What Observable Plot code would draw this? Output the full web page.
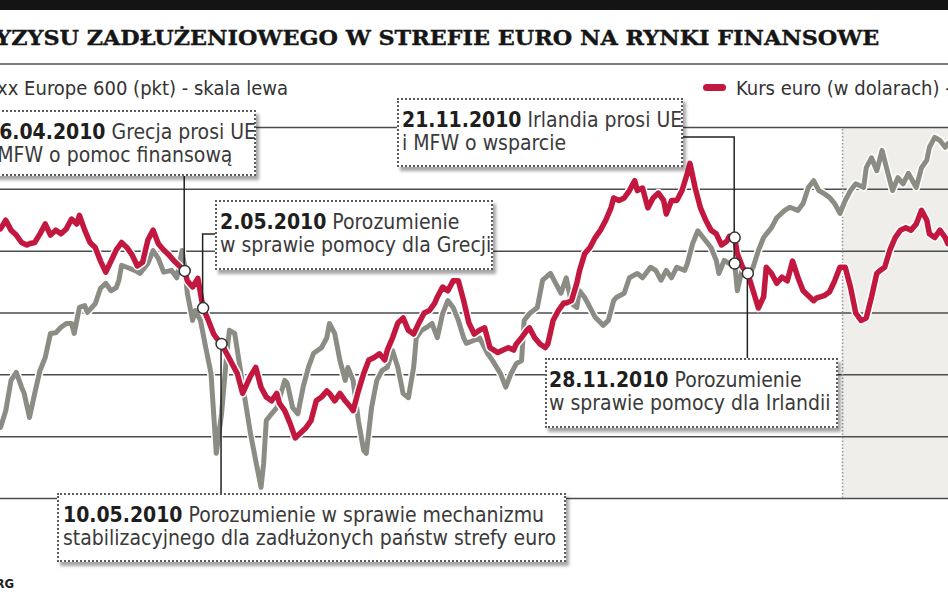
<!DOCTYPE html>
<html><head><meta charset="utf-8">
<script src="https://cdn.jsdelivr.net/npm/d3@7"></script>
<script src="https://cdn.jsdelivr.net/npm/@observablehq/plot@0.6"></script>
<style>
html,body{margin:0;padding:0;background:#fff;}
body{width:948px;height:593px;overflow:hidden;position:relative;font-family:"Liberation Sans Narrow","DejaVu Sans Condensed",sans-serif;}
.abs{position:absolute;white-space:nowrap;}
#topbar{left:0;top:0;width:948px;height:10px;background:#141414;}
#title{top:28px;left:0;font-family:"DejaVu Serif",serif;font-weight:bold;font-size:20.5px;color:#161616;line-height:1;-webkit-text-stroke:0.35px #161616;}
#rule{left:0;top:63px;width:948px;height:2px;background:#7d7d7d;}
.leg{font-size:20px;color:#333;line-height:1;top:78px;}
.pill{display:inline-block;width:23px;height:7px;border-radius:4px;vertical-align:middle;margin-right:10px;position:relative;top:-2px;}
#chart{position:absolute;left:0;top:96px;}
.box{position:absolute;background:#fff;border:2px dotted #5a5a5a;box-shadow:3px 4px 3px rgba(0,0,0,0.35);font-size:21px;line-height:23px;color:#3a3a3a;padding-top:9px;box-sizing:border-box;white-space:nowrap;z-index:2;}
.box b{color:#1e1e1e;}
#source{font-size:13px;font-weight:bold;color:#222;top:577px;right:934px;line-height:1;}
</style></head>
<body>
<div id="topbar" class="abs"></div>
<div id="title" class="abs"><span id="t0">WPŁYW KR</span><span id="t1">YZYSU ZADŁUŻENIOWEGO W STREFIE EURO NA RYNKI FINANSOWE</span></div>
<div id="rule" class="abs"></div>
<div id="legL" class="abs leg" style="right:660px"><span class="pill" style="background:#8b8c84"></span>Stoxx Europe 600 (pkt) - skala lewa</div>
<div id="legR" class="abs leg" style="left:703px"><span class="pill" style="background:#c2183f"></span>Kurs euro (w dolarach) - skala prawa</div>
<div id="chart"></div>
<div id="source" class="abs">Źródło: BLOOMBERG</div>
<script>
// ---------- DATA ----------
const startDate = "2010-02-15";           // day 0 of the series below
const leftTicks  = [230, 240, 250, 260, 270, 280, 290];        // Stoxx Europe 600 (left scale)
const rightTicks = [1.15, 1.20, 1.25, 1.30, 1.35, 1.40, 1.45]; // EUR/USD (right scale)
const shadeFrom = "2011-01-01";

// Stoxx Europe 600: [day since startDate, points]
const stoxxData = [[0,241.5],[2,244.2],[4,249.1],[6,250.4],[8,248.0],[9,247.0],[11,243.1],[13,247.0],[15,250.7],[17,252.8],[19,256.7],[21,256.8],[23,257.7],[25,258.3],[27,258.3],[28,256.7],[30,260.9],[32,261.2],[33,260.1],[36,261.5],[38,264.0],[40,264.8],[42,263.6],[44,264.1],[45,265.3],[46,267.7],[48,267.4],[51,266.9],[53,266.4],[56,268.0],[58,270.1],[60,268.8],[62,266.6],[65,266.9],[67,265.7],[69,270.1],[70,267.4],[71,263.2],[73,258.8],[74,260.4],[76,258.8],[78,254.4],[80,250.2],[82,237.3],[84,243.7],[86,253.5],[87,257.2],[89,256.7],[91,251.2],[93,245.8],[95,240.5],[97,236.1],[99,231.8],[100,235.7],[101,242.6],[103,243.7],[105,244.7],[108,249.1],[109,248.6],[111,244.7],[113,243.7],[115,248.0],[117,251.2],[119,253.5],[122,254.4],[124,256.0],[125,258.3],[127,256.7],[129,252.3],[131,249.1],[132,251.2],[134,249.1],[136,242.6],[138,237.8],[139,237.3],[141,244.7],[143,249.1],[145,250.7],[147,251.2],[149,253.9],[151,251.2],[153,247.0],[155,246.3],[157,251.2],[158,256.0],[160,257.2],[162,257.7],[164,258.3],[166,256.0],[168,259.9],[170,262.0],[172,260.9],[174,258.8],[176,256.0],[177,255.1],[180,255.6],[182,256.0],[185,253.5],[187,252.3],[190,250.2],[192,248.0],[194,250.2],[196,251.8],[198,252.3],[199,258.8],[201,259.9],[204,260.9],[206,265.3],[209,266.4],[211,264.8],[213,263.2],[215,265.7],[217,261.5],[219,260.9],[220,263.6],[222,262.5],[224,260.9],[226,259.3],[229,258.0],[231,258.8],[233,262.0],[234,262.5],[237,263.2],[239,265.7],[242,266.4],[244,265.7],[247,267.4],[249,266.9],[251,265.3],[253,266.9],[255,265.7],[257,267.4],[260,266.9],[261,268.0],[263,271.2],[265,273.3],[267,272.2],[270,270.6],[272,268.5],[273,266.4],[275,268.5],[277,268.0],[279,268.0],[280,263.6],[282,267.4],[284,265.7],[286,267.4],[288,270.1],[290,272.2],[293,273.8],[295,275.4],[298,276.6],[300,277.1],[303,276.6],[305,277.7],[307,280.3],[309,281.4],[311,279.8],[313,279.3],[315,278.7],[317,277.7],[319,276.1],[321,278.2],[323,279.8],[325,280.9],[328,280.3],[329,283.5],[331,285.1],[333,283.0],[335,286.3],[337,283.0],[339,279.8],[341,281.9],[343,280.9],[345,282.6],[348,280.3],[350,283.5],[352,284.7],[353,286.8],[355,288.4],[357,287.9],[359,286.8],[360,287.4]];

// EUR/USD: [day since startDate, dollars per euro]
const euroData = [[0,1.368],[2,1.375],[4,1.367],[6,1.363],[8,1.357],[10,1.355],[11,1.356],[13,1.357],[15,1.364],[17,1.372],[19,1.363],[21,1.367],[23,1.364],[25,1.368],[27,1.376],[29,1.372],[30,1.379],[32,1.367],[34,1.357],[36,1.353],[38,1.342],[40,1.333],[42,1.342],[44,1.351],[46,1.357],[48,1.353],[50,1.347],[52,1.338],[54,1.341],[56,1.359],[58,1.367],[60,1.356],[62,1.351],[64,1.347],[66,1.342],[68,1.338],[70,1.334],[71,1.326],[73,1.321],[75,1.328],[77,1.304],[79,1.294],[81,1.283],[82,1.280],[84,1.275],[86,1.267],[88,1.259],[90,1.251],[92,1.235],[95,1.249],[97,1.256],[99,1.240],[101,1.232],[103,1.229],[105,1.235],[106,1.227],[108,1.221],[110,1.211],[112,1.199],[114,1.203],[116,1.207],[118,1.213],[120,1.229],[122,1.232],[124,1.237],[125,1.235],[127,1.229],[129,1.235],[131,1.229],[133,1.224],[134,1.221],[136,1.237],[138,1.251],[140,1.262],[142,1.264],[144,1.267],[146,1.262],[147,1.270],[149,1.280],[151,1.292],[153,1.296],[155,1.286],[157,1.283],[159,1.292],[161,1.300],[163,1.302],[165,1.308],[166,1.313],[168,1.321],[170,1.318],[172,1.326],[174,1.326],[176,1.310],[178,1.292],[180,1.283],[182,1.286],[184,1.288],[186,1.272],[189,1.268],[191,1.270],[193,1.272],[195,1.270],[196,1.275],[198,1.280],[200,1.286],[201,1.288],[203,1.280],[205,1.275],[207,1.272],[208,1.275],[210,1.294],[212,1.302],[214,1.308],[215,1.308],[217,1.310],[219,1.324],[220,1.334],[222,1.348],[224,1.353],[226,1.361],[228,1.367],[230,1.375],[232,1.385],[233,1.393],[235,1.391],[237,1.393],[239,1.399],[241,1.407],[242,1.399],[244,1.401],[246,1.385],[248,1.393],[250,1.397],[252,1.391],[253,1.380],[255,1.391],[257,1.391],[259,1.399],[261,1.413],[262,1.421],[264,1.401],[266,1.385],[268,1.375],[270,1.367],[272,1.364],[274,1.355],[276,1.358],[277,1.362],[279,1.361],[280,1.348],[282,1.337],[284,1.332],[286,1.318],[288,1.304],[290,1.313],[291,1.337],[293,1.332],[295,1.324],[297,1.329],[299,1.326],[301,1.342],[303,1.329],[305,1.318],[307,1.314],[309,1.310],[310,1.312],[313,1.314],[315,1.317],[317,1.326],[319,1.337],[321,1.337],[323,1.321],[325,1.300],[327,1.294],[329,1.296],[331,1.313],[333,1.332],[334,1.334],[336,1.337],[338,1.351],[340,1.361],[342,1.367],[344,1.369],[346,1.367],[348,1.372],[350,1.383],[352,1.375],[353,1.364],[355,1.361],[357,1.367],[359,1.361],[360,1.356]];

// Events
const eventLabels = ["26.04.2010", "2.05.2010", "10.05.2010", "21.11.2010", "28.11.2010"];
const eventLine1  = ["Grecja prosi UE", "Porozumienie", "Porozumienie w sprawie mechanizmu", "Irlandia prosi UE", "Porozumienie"];
const eventLine2  = ["i MFW o pomoc finansową", "w sprawie pomocy dla Grecji", "stabilizacyjnego dla zadłużonych państw strefy euro", "i MFW o wsparcie", "w sprawie pomocy dla Irlandii"];
const eventMarkerDates = ["2010-04-26", "2010-05-03", "2010-05-10", "2010-11-21", "2010-11-26"]; // trading day plotted
const eventMarkerSeries = [["euro"], ["euro"], ["euro"], ["euro", "stoxx"], ["euro"]];

// ---------- LAYOUT (page pixels) ----------
const svgTop = 96;
const boxes = [
  {left: -22, top: 110, width: 278, height: 66, textLeft: -14},
  {left: 215, top: 200, width: 278, height: 70, textLeft: 220},
  {left: 57,  top: 493, width: 509, height: 69, textLeft: 63},
  {left: 397, top: 98,  width: 286, height: 69, textLeft: 402},
  {left: 545, top: 358, width: 293, height: 70, textLeft: 549}
];
// connector: elbow y (page px) and optional horizontal end x (page px)
const connectors = [
  {toY: 176}, {toY: 234, toX: 215}, {toY: 493}, {toY: 137, toX: 682}, {toY: 358}
];

// ---------- BUILD ----------
const start = new Date(startDate + "T00:00:00Z");
const end = new Date(start.getTime() + 360.25 * 864e5);
const dayToDate = d => new Date(start.getTime() + d * 864e5);
const L = [leftTicks[0], leftTicks[leftTicks.length - 1]];
const R = [rightTicks[0], rightTicks[rightTicks.length - 1]];
const toLeft = r => L[0] + (r - R[0]) / (R[1] - R[0]) * (L[1] - L[0]);

const stoxx = stoxxData.map(([d, v]) => ({date: dayToDate(d), y: v}));
const euro = euroData.map(([d, v]) => ({date: dayToDate(d), rate: v, y: toLeft(v)}));
const seriesBy = {stoxx, euro};

const markers = [];
eventMarkerDates.forEach((ds, i) => {
  const t = new Date(ds + "T00:00:00Z");
  eventMarkerSeries[i].forEach(s => {
    const p = d3.least(seriesBy[s], q => Math.abs(q.date - t));
    markers.push({event: i, date: p.date, y: p.y});
  });
});

const chart = Plot.plot({
  width: 948, height: 497,
  marginLeft: 0, marginRight: 0, marginTop: 31, marginBottom: 95,
  x: {type: "utc", domain: [start, end], axis: null},
  y: {domain: L, axis: null},
  style: {background: "transparent", overflow: "visible"},
  marks: [
    Plot.rect([{from: new Date(shadeFrom + "T00:00:00Z"), to: end}], {x1: "from", x2: "to", y1: L[0], y2: L[1], fill: "#efeeeb"}),
    Plot.ruleY(leftTicks, {stroke: "#4d4d4d", strokeWidth: 1.5}),
    Plot.ruleX([new Date(shadeFrom + "T00:00:00Z")], {y1: L[0], y2: L[1], stroke: "#999", strokeWidth: 1.5, strokeDasharray: "1.5,2"}),
    Plot.line(stoxx, {x: "date", y: "y", stroke: "white", strokeWidth: 8, strokeLinejoin: "round"}),
    Plot.line(stoxx, {x: "date", y: "y", stroke: "#8b8c84", strokeWidth: 5, strokeLinejoin: "round"}),
    Plot.line(euro, {x: "date", y: "y", stroke: "white", strokeWidth: 8.5, strokeLinejoin: "round"}),
    Plot.line(euro, {x: "date", y: "y", stroke: "#c2183f", strokeWidth: 5.5, strokeLinejoin: "round"}),
    Plot.dot(markers, {x: "date", y: "y", r: 5.5, fill: "white", stroke: "#333", strokeWidth: 1.5})
  ]
});
document.getElementById("chart").appendChild(chart);

// connectors, drawn with the chart's own scales, beneath the marker dots
const xs = chart.scale("x"), ys = chart.scale("y");
const dotG = chart.querySelector('g[aria-label="dot"]');
const cg = d3.create("svg:g").attr("fill", "none").attr("stroke", "#222").attr("stroke-width", 1.5);
connectors.forEach((c, i) => {
  const ms = markers.filter(m => m.event === i);
  const x = xs.apply(ms[0].date);
  const yVals = ms.map(m => ys.apply(m.y));
  const yFrom = c.toY - svgTop < d3.min(yVals) ? d3.max(yVals) : d3.min(yVals);
  const pts = [[x, yFrom], [x, c.toY - svgTop]];
  if (c.toX !== undefined) pts.push([c.toX, c.toY - svgTop]);
  cg.append("path").attr("d", d3.line()(pts));
});
chart.insertBefore(cg.node(), dotG);

// annotation boxes
boxes.forEach((b, i) => {
  const div = document.createElement("div");
  div.className = "box";
  div.style.left = b.left + "px"; div.style.top = b.top + "px";
  div.style.width = b.width + "px"; div.style.height = b.height + "px";
  div.style.paddingLeft = (b.textLeft - b.left - 2) + "px";
  div.innerHTML = `<b>${eventLabels[i]}</b> ${eventLine1[i]}<br>${eventLine2[i]}`;
  document.body.appendChild(div);
});

// fit the title so its visible part spans like the original (wide slab letters)
const t1 = document.getElementById("t1"), t0 = document.getElementById("t0"), title = document.getElementById("title");
const w1 = t1.getBoundingClientRect().width;
const w0 = t0.getBoundingClientRect().width;
const k = 884 / w1;
title.style.transformOrigin = "0 0";
title.style.transform = `scaleX(${k})`;
title.style.left = (-5 - w0 * k) + "px";
</script>
</body></html>
